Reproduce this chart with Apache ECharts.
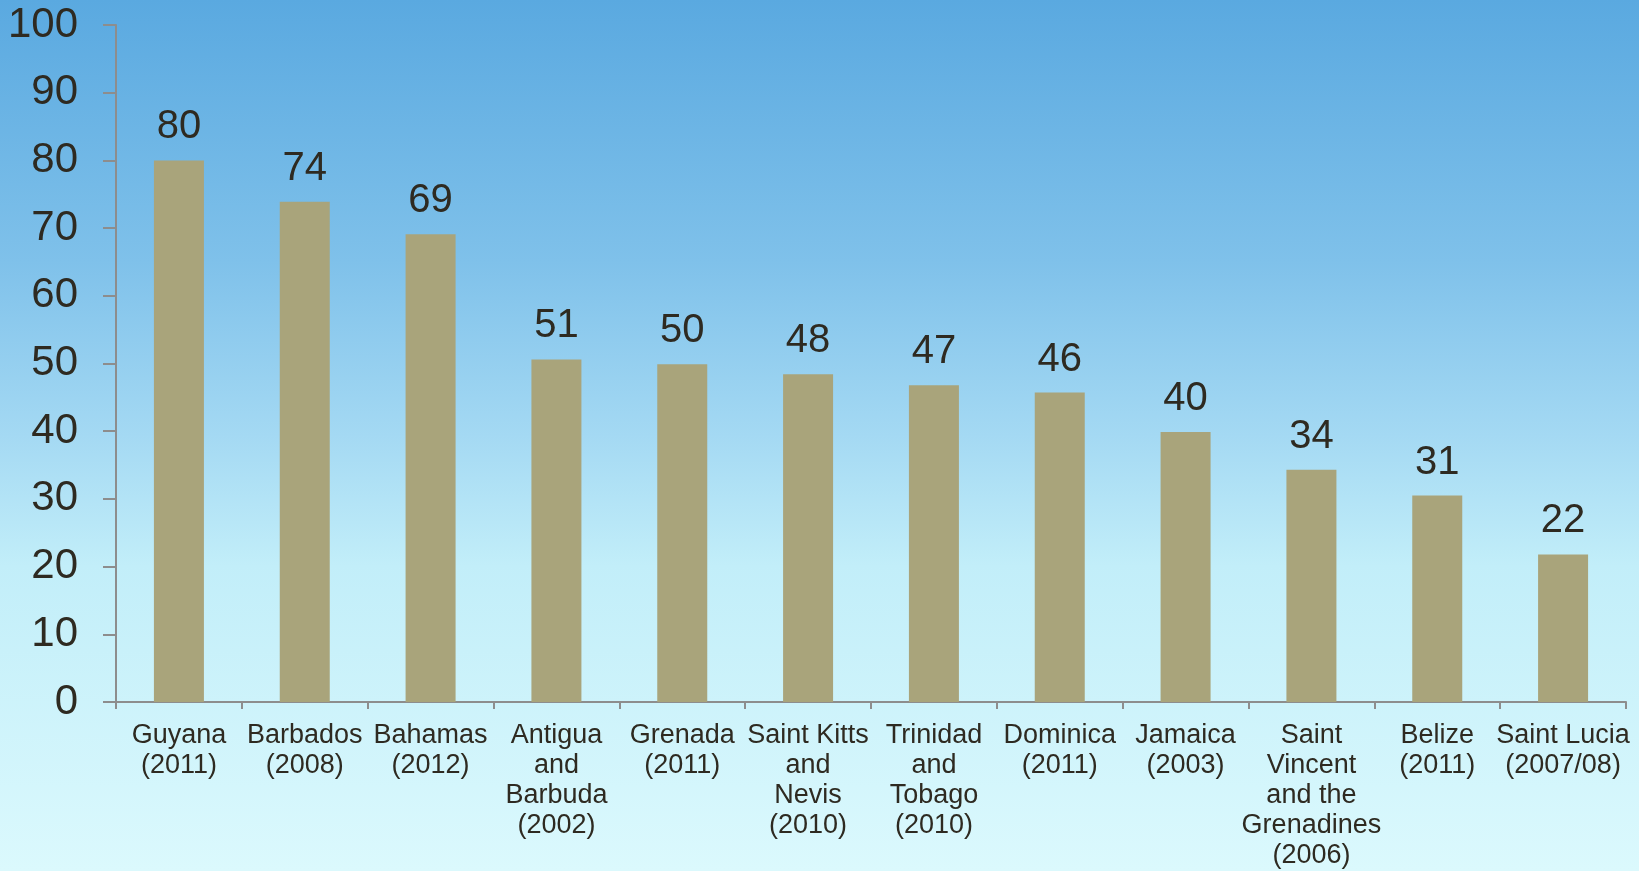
<!DOCTYPE html>
<html>
<head>
<meta charset="utf-8">
<script src="https://cdn.jsdelivr.net/npm/echarts@6/dist/echarts.min.js"></script>
<style>
html, body { margin: 0; padding: 0; }
#main { width: 1639px; height: 871px; }
</style>
</head>
<body>
<div id="main"></div>
<script>
var countries = [
    'Guyana\n(2011)', 'Barbados\n(2008)', 'Bahamas\n(2012)', 'Antigua\nand\nBarbuda\n(2002)',
    'Grenada\n(2011)', 'Saint Kitts\nand\nNevis\n(2010)', 'Trinidad\nand\nTobago\n(2010)',
    'Dominica\n(2011)', 'Jamaica\n(2003)', 'Saint\nVincent\nand the\nGrenadines\n(2006)',
    'Belize\n(2011)', 'Saint Lucia\n(2007/08)'
];
var values = [80, 73.9, 69.1, 50.6, 49.9, 48.4, 46.8, 45.7, 39.9, 34.3, 30.5, 21.8];
var valueLabels = [80, 74, 69, 51, 50, 48, 47, 46, 40, 34, 31, 22];
var yTicks = [0, 10, 20, 30, 40, 50, 60, 70, 80, 90, 100];

var textColor = '#2e2a21';
var axisColor = '#8d8d8d';
var font = '"Liberation Sans", Arial, sans-serif';

var myChart = echarts.init(document.getElementById('main'));

var option = {
    backgroundColor: {
        type: 'linear', x: 0, y: 0, x2: 0, y2: 1,
        colorStops: [
            { offset: 0, color: '#5aa9e0' },
            { offset: 0.3, color: '#7fc1ea' },
            { offset: 0.5, color: '#a4d9f3' },
            { offset: 0.65, color: '#c2eef9' },
            { offset: 1, color: '#dbf9fd' }
        ]
    },
    animation: false,
    grid: {
        left: 116,
        right: 13,
        top: 25,
        bottom: 169,
        containLabel: false
    },
    xAxis: {
        type: 'category',
        data: countries,
        axisLine: { lineStyle: { color: axisColor, width: 2 } },
        axisTick: { show: true, length: 7, lineStyle: { color: axisColor, width: 2 } },
        axisLabel: {
            interval: 0,
            margin: 19,
            color: textColor,
            fontSize: 27,
            lineHeight: 30,
            fontFamily: font,
            align: 'center'
        }
    },
    yAxis: {
        type: 'value',
        min: yTicks[0],
        max: yTicks[yTicks.length - 1],
        interval: 10,
        splitLine: { show: false },
        axisLine: { show: true, lineStyle: { color: axisColor, width: 2 } },
        axisTick: { show: true, length: 13, lineStyle: { color: axisColor, width: 2 } },
        axisLabel: {
            margin: 38,
            color: textColor,
            fontSize: 42,
            fontFamily: font
        }
    },
    series: [{
        type: 'bar',
        data: values,
        barWidth: 50,
        itemStyle: { color: '#a9a47b' },
        label: {
            show: true,
            position: 'top',
            distance: 13,
            color: textColor,
            fontSize: 40,
            fontFamily: font,
            formatter: function (p) {
                return valueLabels[p.dataIndex];
            }
        }
    }]
};
myChart.setOption(option);
</script>
</body>
</html>
